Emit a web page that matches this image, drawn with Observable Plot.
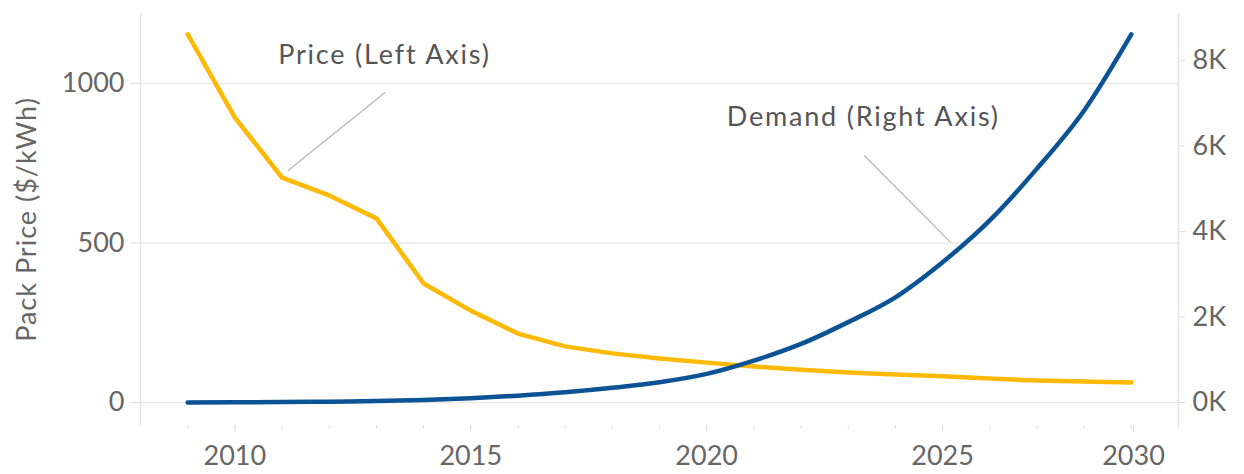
<!DOCTYPE html>
<html>
<head>
<meta charset="utf-8">
<script src="https://cdn.jsdelivr.net/npm/d3@7"></script>
<script src="https://cdn.jsdelivr.net/npm/@observablehq/plot@0.6"></script>
<style>
  html, body { margin: 0; padding: 0; background: #fff; }
  #chart { width: 1244px; height: 474px; overflow: hidden; }
  .ann text { letter-spacing: 1.8px; }
  .ylab [aria-label="y-axis label"] text, .ylab text[aria-label="y-axis label"] { letter-spacing: 1px; }
</style>
</head>
<body>
<div id="chart"></div>
<script>
// ---- Data ----
const years  = [2009, 2010, 2011, 2012, 2013, 2014, 2015, 2016, 2017, 2018, 2019, 2020, 2021, 2022, 2023, 2024, 2025, 2026, 2027, 2028, 2029];
const price  = [1154, 893, 705, 649, 577, 373, 288, 216, 176, 154, 138, 125, 113, 103, 94, 88, 82, 75, 69, 66, 63];   // $/kWh, left axis
const demand = [0, 5, 10, 20, 35, 60, 100, 160, 240, 345, 475, 670, 980, 1370, 1880, 2460, 3280, 4260, 5470, 6830, 8610]; // right axis

const leftTicks  = [0, 500, 1000];
const rightTicks = [0, 2000, 4000, 6000, 8000];
const majorYears = [2010, 2015, 2020, 2025];
const lastYear   = [2030];
const minorYears = [2009, 2010, 2011, 2012, 2013, 2014, 2015, 2016, 2017, 2018, 2019, 2020, 2021, 2022, 2023, 2024, 2025, 2026, 2027, 2028, 2029, 2030];

// annotations (data space)
const annLabels = ["Price (Left Axis)", "Demand (Right Axis)"];
const annYear   = [2013.17, 2023.32];
const annValue  = [1088, 893];
const leadFromYear  = [2013.19, 2023.34];
const leadFromValue = [972, 774];
const leadToYear    = [2011.13, 2025.17];
const leadToValue   = [727, 502];

// ratio between right-axis units and left-axis units (8K on right ≈ 1072 on left)
const k = 1072 / 8000;

const rows = years.map((y, i) => ({year: y, price: price[i], demand: demand[i] * k}));
const anns = annLabels.map((t, i) => ({text: t, x: annYear[i], y: annValue[i]}));
const leads = annLabels.map((t, i) => ({x1: leadFromYear[i], y1: leadFromValue[i], x2: leadToYear[i], y2: leadToValue[i]}));

const font = "Lato, 'Open Sans', sans-serif";

const chart = Plot.plot({
  width: 1244,
  height: 474,
  marginLeft: 140,
  marginRight: 66,
  marginTop: 13,
  marginBottom: 49,
  style: {fontFamily: font, fontSize: "26px", color: "#666", background: "#fff"},
  x: {domain: [2008, 2030]},
  y: {domain: [-72, 1219]},
  marks: [
    Plot.gridY(leftTicks, {stroke: "#e9e9e9", strokeOpacity: 1, strokeWidth: 1.5}),
    Plot.ruleX([2008, 2030], {stroke: "#e4e4e4", strokeWidth: 1.5}),
    Plot.axisY(leftTicks, {
      anchor: "left", tickSize: 10, tickPadding: 6, stroke: "#dcdcdc", fill: "#666", fontSize: 27,
      tickFormat: d => String(d),
      label: "Pack Price ($/kWh)", labelAnchor: "center", labelArrow: "none", labelOffset: 124,
      className: "ylab"
    }),
    Plot.axisY(rightTicks.map(v => v * k), {
      anchor: "right", tickSize: 6, tickPadding: 8, stroke: "#dcdcdc", fill: "#666", fontSize: 27,
      tickFormat: d => `${Math.round(d / k / 1000)}K`, label: null
    }),
    Plot.axisX(minorYears, {anchor: "bottom", tickSize: 4, tickFormat: () => "", stroke: "#e4e4e4", label: null}),
    Plot.axisX(majorYears, {anchor: "bottom", tickSize: 7, tickPadding: 13, stroke: "#dcdcdc", fill: "#666", fontSize: 27, tickFormat: d => String(d), label: null}),
    Plot.axisX(lastYear, {anchor: "bottom", tickSize: 7, tickPadding: 13, stroke: "#dcdcdc", fill: "#666", fontSize: 27, dx: -45, tickFormat: d => String(d), label: null}),
    Plot.link(leads, {x1: "x1", y1: "y1", x2: "x2", y2: "y2", stroke: "#b5b5b5", strokeWidth: 1.2}),
    Plot.line(rows, {x: "year", y: "price", stroke: "#FFB900", strokeWidth: 4.5, strokeLinejoin: "round", strokeLinecap: "round"}),
    Plot.line(rows, {x: "year", y: "demand", stroke: "#0B5394", strokeWidth: 4.5, curve: "monotone-x", strokeLinecap: "round"}),
    Plot.text(anns, {x: "x", y: "y", text: "text", fill: "#555", fontSize: 27, textAnchor: "middle", className: "ann"})
  ]
});

document.getElementById("chart").appendChild(chart);
// widen the rotated y-axis title slightly to match the reference lettering
chart.querySelectorAll("[aria-label='y-axis label']").forEach(g => g.style.letterSpacing = "1px");
</script>
</body>
</html>
